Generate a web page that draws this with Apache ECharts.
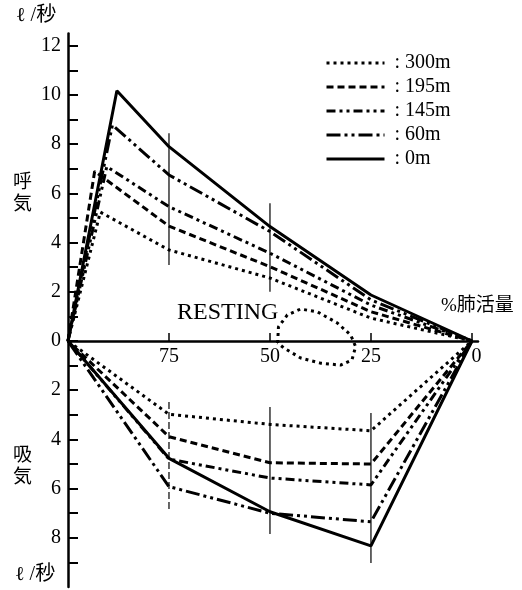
<!DOCTYPE html>
<html><head><meta charset="utf-8">
<script src="https://cdn.jsdelivr.net/npm/echarts@6/dist/echarts.min.js"></script>
<style>html,body{margin:0;padding:0;background:#fff}#c{width:522px;height:590px}</style>
</head><body><div id="c"></div>
<script>
// %肺活量 positions (expiration: 100 -> peak -> 0, inspiration: 0 -> 100)
const x0m   = [100, 87.9, 75, 50, 25, 0, 25, 50, 75, 100];
const y0m   = [0, 10.17, 7.9, 4.65, 1.87, 0, -8.33, -6.94, -4.77, 0];
const x60m  = [100, 89.0, 75, 50, 25, 0, 25, 50, 75, 100];
const y60m  = [0, 8.78, 6.75, 4.45, 1.67, 0, -7.35, -7.0, -5.92, 0];
const x145m = [100, 90.4, 75, 50, 25, 0, 25, 50, 75, 100];
const y145m = [0, 7.09, 5.46, 3.57, 1.46, 0, -5.85, -5.57, -4.8, 0];
const x195m = [100, 93.4, 75, 50, 25, 0, 25, 50, 75, 100];
const y195m = [0, 6.9, 4.67, 3.02, 1.19, 0, -5.0, -4.95, -3.89, 0];
const x300m = [100, 92.0, 75, 50, 25, 0, 25, 50, 75, 100];
const y300m = [0, 5.24, 3.70, 2.56, 0.93, 0, -3.65, -3.39, -2.98, 0];

const restX = [48.1, 47.9, 45.7, 42.4, 38.2, 33.3, 30.0, 28.8, 29.7, 32.5, 37.5, 42.4, 46.6, 48.1];
const restY = [-0.08, 0.57, 1.06, 1.3, 1.18, 0.73, 0.24, -0.23, -0.77, -0.98, -0.9, -0.69, -0.28, -0.08];

const errX  = [75, 50, 75, 50, 25];
const errHi = [8.45, 5.6, -2.48, -2.68, -2.93];
const errLo = [3.09, 2.0, -6.87, -7.85, -9.02];

const xTickVals = [75, 50, 25, 0];
const yTickVals = [-9,-8,-7,-6,-5,-4,-3,-2,-1,0,1,2,3,4,5,6,7,8,9,10,11,12];
const yLabelVals = [-8,-6,-4,-2,0,2,4,6,8,10,12];

const names = ['300m','195m','145m','60m','0m'];
const xs = [x300m, x195m, x145m, x60m, x0m];
const ys = [y300m, y195m, y145m, y60m, y0m];
const dashes = [[3,4],[7,4],[9,4,3,4,3,4],[14,4,3,4,3,4],'solid'];

const SERIF = '"Liberation Serif","Times New Roman",serif';
const CJK = '"Liberation Serif","Noto Sans CJK JP",serif';

const series = names.map((n,i)=>({
  name: n, type:'line', symbol:'none', animation:false,
  data: xs[i].map((x,j)=>[x, ys[i][j]]),
  lineStyle:{color:'#000', width:3, type:dashes[i], cap:'butt'},
  itemStyle:{color:'#000'}, z:3
}));
series.push({
  name:'resting', type:'line', symbol:'none', animation:false,
  data: restX.map((x,j)=>[x, restY[j]]),
  lineStyle:{color:'#000', width:3, type:[3,4]}, z:3
});
errX.forEach((x,i)=>{
  series.push({
    name:'err'+i, type:'line', symbol:'none', animation:false,
    data:[[x, errHi[i]],[x, errLo[i]]],
    lineStyle:{color:'#000', width:1.2, type: i===2 ? [7,3] : 'solid'}, z:2
  });
});

const chart = echarts.init(document.getElementById('c'));
chart.setOption({
  backgroundColor:'#fff',
  animation:false,
  grid:{left:68, right:44, top:33.5, bottom:3, outerBoundsMode:'none', containLabel:false},
  legend:{
    data: names, orient:'vertical', left:320, top:48,
    itemWidth:58, itemHeight:14, itemGap:4,
    itemStyle:{color:'rgba(0,0,0,0)', borderWidth:0},
    lineStyle:{width:3, color:'#000'},
    formatter:' : {name}',
    textStyle:{fontFamily:SERIF, fontSize:20, color:'#000', lineHeight:20},
    selectedMode:false
  },
  xAxis:{
    type:'value', inverse:true, min:-1.5, max:100,
    position:'bottom', offset:-246,
    splitLine:{show:false},
    axisLine:{onZero:false, lineStyle:{color:'#000', width:2.5}},
    axisTick:{inside:true, length:8, customValues:xTickVals, lineStyle:{color:'#000', width:1.5}},
    axisLabel:{customValues:xTickVals, margin:6, fontFamily:SERIF, fontSize:20, color:'#000',
      formatter:v=> v===0 ? '{z|0}' : String(v),
      rich:{z:{fontFamily:SERIF, fontSize:20, color:'#000', padding:[0,0,0,9]}}}
  },
  yAxis:{
    type:'value', min:-10, max:12.5,
    splitLine:{show:false},
    axisLine:{onZero:false, lineStyle:{color:'#000', width:2.5}},
    axisTick:{inside:true, length:10, customValues:yTickVals, lineStyle:{color:'#000', width:2}},
    axisLabel:{customValues:yLabelVals, margin:7, fontFamily:SERIF, fontSize:20, color:'#000',
      formatter:v=>String(Math.abs(v))}
  },
  graphic:[
    {type:'text', left:16, top:6, style:{text:'ℓ /秒', font:'20px '+CJK, fill:'#000'}},
    {type:'text', left:15, top:565, style:{text:'ℓ /秒', font:'20px '+CJK, fill:'#000'}},
    {type:'text', left:13, top:172, style:{text:'呼\n気', font:'19px '+CJK, fill:'#000', lineHeight:22}},
    {type:'text', left:13, top:445, style:{text:'吸\n気', font:'19px '+CJK, fill:'#000', lineHeight:22}},
    {type:'text', left:441, top:297, style:{text:'%肺活量', font:'19px '+CJK, fill:'#000'}},
    {type:'text', left:177, top:301, style:{text:'RESTING', font:'24px '+SERIF, fill:'#000'}}
  ],
  series: series
});
</script></body></html>
